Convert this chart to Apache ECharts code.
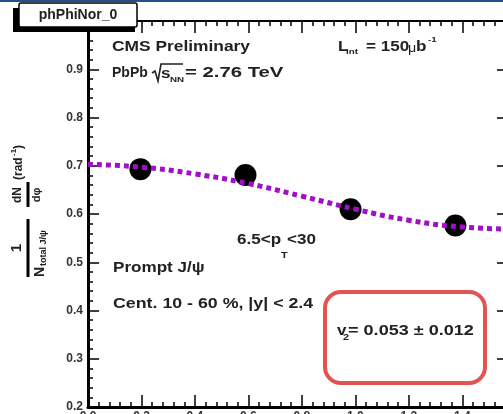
<!DOCTYPE html>
<html>
<head>
<meta charset="utf-8">
<script src="https://cdn.jsdelivr.net/npm/echarts@6/dist/echarts.min.js"></script>
<style>
  html, body { margin: 0; padding: 0; background: #fff; }
  #main { width: 503px; height: 414px; }
</style>
</head>
<body>
<div id="main"></div>
<script>
  // data
  const pointPhi = [0.196, 0.589, 0.982, 1.374]
  const pointVal = [0.693, 0.681, 0.610, 0.576]
  // fit curve, sampled by eye
  const fitPhi = [0, 0.2, 0.4, 0.6, 0.8, 1.0, 1.2, 1.4, 1.5708]
  const fitVal = [0.703, 0.697, 0.683, 0.663, 0.637, 0.610, 0.587, 0.573, 0.569]

  const FONT = '"Liberation Sans", Arial, sans-serif'

  // small helper for text pieces, sx = horizontal stretch
  function txt(x, y, s, size, sx, weight) {
    return {
      type: 'text', x: x, y: y, scaleX: sx || 1.22, z: 10,
      style: {
        text: s, fontSize: size, fontWeight: weight || 'bold', fontFamily: FONT,
        fill: '#222', verticalAlign: 'middle', align: 'left'
      }
    }
  }

  const chart = echarts.init(document.getElementById('main'))

  const axisCommon = {
    type: 'value',
    splitLine: { show: false },
    axisLine: { onZero: false, lineStyle: { color: '#000', width: 3 } },
    axisTick: { inside: true, length: 12, lineStyle: { color: '#000', width: 1.5 } },
    minorTick: { show: true, splitNumber: 5, length: 5, lineStyle: { color: '#000', width: 1.5 } }
  }

  const option = {
    animation: false,
    grid: { left: 88, top: 21, width: 420, height: 386, outerBoundsMode: 'none' },
    xAxis: [
      Object.assign({}, axisCommon, {
        position: 'bottom', min: 0, max: 1.5708, interval: 0.2,
        axisLabel: {
          margin: 4, fontSize: 12, fontWeight: 'bold', fontFamily: FONT, color: '#333',
          showMaxLabel: false, formatter: v => v.toFixed(1)
        }
      }),
      Object.assign({}, axisCommon, {
        position: 'top', min: 0, max: 1.5708, interval: 0.2,
        axisLine: { onZero: false, lineStyle: { color: '#000', width: 2 } },
        axisLabel: { show: false }
      })
    ],
    yAxis: [
      Object.assign({}, axisCommon, {
        position: 'left', min: 0.2, max: 1.0, interval: 0.1,
        axisTick: { inside: true, length: 11, lineStyle: { color: '#000', width: 1.5 } },
        axisLabel: {
          margin: 5, fontSize: 12, fontWeight: 'bold', fontFamily: FONT, color: '#333',
          showMaxLabel: false, formatter: v => v.toFixed(1)
        }
      }),
      Object.assign({}, axisCommon, {
        position: 'right', min: 0.2, max: 1.0, interval: 0.1,
        axisLine: { onZero: false, lineStyle: { color: '#000', width: 2 } },
        axisTick: { inside: true, length: 11, lineStyle: { color: '#000', width: 1.5 } },
        axisLabel: { show: false }
      })
    ],
    series: [
      {
        type: 'scatter',
        data: pointPhi.map((p, i) => [p, pointVal[i]]),
        symbolSize: 22,
        itemStyle: { color: '#000', opacity: 1 },
        z: 2
      },
      {
        type: 'line',
        data: fitPhi.map((p, i) => [p, fitVal[i]]),
        smooth: true,
        showSymbol: false,
        lineStyle: { color: '#a010c8', width: 5, type: [5, 4] },
        z: 3
      }
    ],
    graphic: [
      // blue strip on top
      { type: 'rect', shape: { x: 0, y: 0, width: 503, height: 2 }, style: { fill: '#23508f' }, z: 20 },
      // title box with shadow
      { type: 'rect', shape: { x: 13, y: 8, width: 122, height: 24 }, style: { fill: '#000' }, z: 20 },
      { type: 'rect', shape: { x: 19, y: 3, width: 118, height: 24, r: 2 }, style: { fill: '#fff', stroke: '#000', lineWidth: 1.5 }, z: 21 },
      { type: 'text', x: 78, y: 15, z: 22, style: { text: 'phPhiNor_0', fontSize: 14, fontWeight: 'bold', fontFamily: FONT, fill: '#222', align: 'center', verticalAlign: 'middle' } },

      txt(112, 47, 'CMS Preliminary', 14, 1.24),
      txt(112, 73, 'PbPb', 14, 1.0),
      { type: 'polyline', shape: { points: [[152, 73], [155, 71], [158, 81], [161, 64], [183, 64]] }, style: { stroke: '#222', lineWidth: 1.6, fill: null }, z: 10 },
      txt(161, 74, 's', 14),
      txt(170, 80, 'NN', 8),
      txt(185, 73, '= 2.76 TeV', 14, 1.45),

      txt(338, 47, 'L', 14),
      txt(346, 52, 'int', 8),
      txt(366, 47, '= 150', 14),
      txt(408, 48, 'μ', 13, 1.1, 'normal'),
      txt(416, 47, 'b', 14),
      txt(428, 40, '-1', 8),

      txt(237, 240, '6.5<p', 14),
      txt(281, 256, 'T', 9),
      txt(287, 240, '<30', 14),

      txt(113, 268, 'Prompt J/ψ', 14),
      txt(113, 304, 'Cent. 10 - 60 %, |y| < 2.4', 14, 1.27),

      { type: 'rect', shape: { x: 325, y: 292, width: 160, height: 91, r: 16 }, style: { fill: null, stroke: '#e25454', lineWidth: 4 }, z: 10 },
      txt(337, 331, 'v', 14),
      txt(343, 338, '2', 9),
      txt(348, 331, '= 0.053 ± 0.012', 14, 1.29),

      // y axis title, rotated to read upward
      {
        type: 'group', x: 28, y: 277, rotation: Math.PI / 2, z: 10,
        children: [
          { type: 'rect', shape: { x: 0, y: -1.5, width: 58, height: 3 }, style: { fill: '#000' } },
          { type: 'text', x: 29, y: -11, style: { text: '1', fontSize: 15, fontWeight: 'bold', fontFamily: FONT, fill: '#222', align: 'center', verticalAlign: 'middle' } },
          { type: 'text', x: 0, y: 12, style: { text: 'N', fontSize: 14, fontWeight: 'bold', fontFamily: FONT, fill: '#222', align: 'left', verticalAlign: 'middle' } },
          { type: 'text', x: 11, y: 16, style: { text: 'total J/ψ', fontSize: 9, fontWeight: 'bold', fontFamily: FONT, fill: '#222', align: 'left', verticalAlign: 'middle' } },
          { type: 'rect', shape: { x: 70, y: -1.5, width: 25, height: 3 }, style: { fill: '#000' } },
          { type: 'text', x: 82, y: -10, style: { text: 'dN', fontSize: 12, fontWeight: 'bold', fontFamily: FONT, fill: '#222', align: 'center', verticalAlign: 'middle' } },
          { type: 'text', x: 82, y: 9, style: { text: 'dφ', fontSize: 11, fontWeight: 'bold', fontFamily: FONT, fill: '#222', align: 'center', verticalAlign: 'middle' } },
          { type: 'text', x: 97, y: -9, style: { text: '(rad', fontSize: 12, fontWeight: 'bold', fontFamily: FONT, fill: '#222', align: 'left', verticalAlign: 'middle' } },
          { type: 'text', x: 121, y: -14, style: { text: '-1', fontSize: 8, fontWeight: 'bold', fontFamily: FONT, fill: '#222', align: 'left', verticalAlign: 'middle' } },
          { type: 'text', x: 128, y: -9, style: { text: ')', fontSize: 12, fontWeight: 'bold', fontFamily: FONT, fill: '#222', align: 'left', verticalAlign: 'middle' } }
        ]
      }
    ]
  }

  chart.setOption(option)
</script>
</body>
</html>
